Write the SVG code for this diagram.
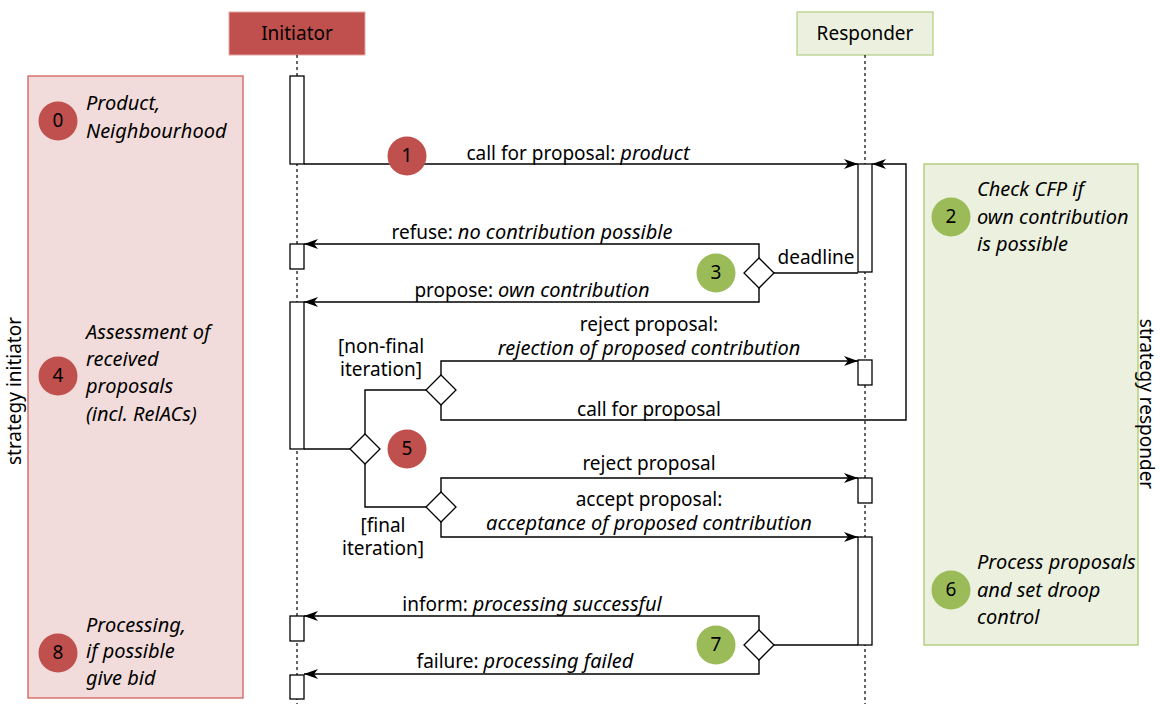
<svg xmlns="http://www.w3.org/2000/svg" width="1160" height="704" viewBox="0 0 1160 704">
<defs>
<marker id="arr" viewBox="0 0 14 10" refX="14" refY="5" markerWidth="14" markerHeight="10" markerUnits="userSpaceOnUse" orient="auto">
<path d="M0,0 L14,5 L0,10 L4,5 z" fill="#000"/>
</marker>
<style>
text{font-family:"Noto Sans","Open Sans","DejaVu Sans",sans-serif;font-size:19px;fill:#000}
.it{font-style:italic;font-size:20px}
.c{text-anchor:middle}
.life{stroke:#000;stroke-width:1.2;stroke-dasharray:3,3;fill:none}
.bar{fill:#fff;stroke:#000;stroke-width:1.3}
.con{fill:none;stroke:#000;stroke-width:1.4}
.dia{fill:#fff;stroke:#000;stroke-width:1.3}
.red{fill:#c0504d}
.grn{fill:#9bbb59}
</style>
</defs>
<rect id="strategy-initiator" x="28" y="76" width="215" height="622" fill="#f2dcdb" stroke="#d0605c" stroke-width="1.3"/>
<rect id="strategy-responder" x="924" y="164" width="214" height="481" fill="#ebf1de" stroke="#a9c96e" stroke-width="1.3"/>
<text transform="translate(21,391) rotate(-90)" class="c">strategy initiator</text>
<text transform="translate(1140,404) rotate(90)" class="c">strategy responder</text>
<g id="initiator">
<rect x="229" y="12" width="136" height="43" fill="#c0504d" stroke="#e6a5a3" stroke-width="1"/>
<text x="297" y="40" class="c">Initiator</text>
<line x1="297" y1="55" x2="297" y2="704" class="life"/>
</g>
<g id="responder">
<rect x="797" y="12" width="136" height="43" fill="#ebf1de" stroke="#b5d18a" stroke-width="1.3"/>
<text x="865" y="40" class="c">Responder</text>
<line x1="865" y1="55" x2="865" y2="704" class="life"/>
</g>
<g id="activations">
<rect x="290" y="76" width="14" height="88" class="bar"/>
<rect x="290" y="244" width="14" height="25" class="bar"/>
<rect x="290" y="302" width="14" height="147" class="bar"/>
<rect x="290" y="616" width="14" height="25" class="bar"/>
<rect x="290" y="675" width="14" height="24" class="bar"/>
<rect x="858" y="164" width="14" height="108" class="bar"/>
<rect x="858" y="360" width="14" height="25" class="bar"/>
<rect x="858" y="478" width="14" height="25" class="bar"/>
<rect x="858" y="537" width="14" height="108" class="bar"/>
</g>
<g id="connectors">
<path d="M304,164 H858" class="con" marker-end="url(#arr)"/>
<path d="M441,405 V420 H906 V164 H872" class="con" marker-end="url(#arr)"/>
<path d="M858,273 H774" class="con"/>
<path d="M759,258 V244 H304" class="con" marker-end="url(#arr)"/>
<path d="M759,288 V302 H304" class="con" marker-end="url(#arr)"/>
<path d="M304,449 H350" class="con"/>
<path d="M365,434 V390 H426" class="con"/>
<path d="M365,464 V507 H426" class="con"/>
<path d="M441,375 V361 H858" class="con" marker-end="url(#arr)"/>
<path d="M441,492 V478 H858" class="con" marker-end="url(#arr)"/>
<path d="M441,522 V537 H858" class="con" marker-end="url(#arr)"/>
<path d="M858,645 H774" class="con"/>
<path d="M759,630 V616 H304" class="con" marker-end="url(#arr)"/>
<path d="M759,660 V674 H304" class="con" marker-end="url(#arr)"/>
</g>
<g id="decisions">
<path id="d3" d="M759,258 L774,273 L759,288 L744,273 z" class="dia"/>
<path id="d5" d="M365,434 L380,449 L365,464 L350,449 z" class="dia"/>
<path id="d5a" d="M441,375 L456,390 L441,405 L426,390 z" class="dia"/>
<path id="d5b" d="M441,492 L456,507 L441,522 L426,507 z" class="dia"/>
<path id="d7" d="M759,630 L774,645 L759,660 L744,645 z" class="dia"/>
</g>
<g id="labels">
<text x="578" y="160" class="c">call for proposal: <tspan class="it">product</tspan></text>
<text x="532" y="239" class="c">refuse: <tspan class="it">no contribution possible</tspan></text>
<text x="532" y="297" class="c">propose: <tspan class="it">own contribution</tspan></text>
<text x="816" y="264" class="c">deadline</text>
<text x="649" y="331" class="c">reject proposal:</text>
<text x="649" y="355" class="c it">rejection of proposed contribution</text>
<text x="649" y="416" class="c">call for proposal</text>
<text x="649" y="470" class="c">reject proposal</text>
<text x="649" y="506" class="c">accept proposal:</text>
<text x="649" y="530" class="c it">acceptance of proposed contribution</text>
<text x="532" y="611" class="c">inform: <tspan class="it">processing successful</tspan></text>
<text x="525" y="668" class="c">failure: <tspan class="it">processing failed</tspan></text>
<text x="381" y="353" class="c">[non-final</text>
<text x="381" y="376" class="c">iteration]</text>
<text x="383" y="532" class="c">[final</text>
<text x="383" y="555" class="c">iteration]</text>
</g>
<g id="step0"><circle cx="58" cy="121" r="19.5" class="red"/><text x="58" y="127" class="c">0</text>
<text x="86" y="110" class="it">Product,</text><text x="86" y="138" class="it">Neighbourhood</text></g>
<g id="step4"><circle cx="58" cy="376" r="19.5" class="red"/><text x="58" y="382" class="c">4</text>
<text x="86" y="339" class="it">Assessment of</text><text x="86" y="366" class="it">received</text><text x="86" y="393" class="it">proposals</text><text x="86" y="421" class="it">(incl. RelACs)</text></g>
<g id="step8"><circle cx="58" cy="653" r="19.5" class="red"/><text x="58" y="659" class="c">8</text>
<text x="86" y="632" class="it">Processing,</text><text x="86" y="658" class="it">if possible</text><text x="86" y="685" class="it">give bid</text></g>
<g id="step1"><circle cx="407" cy="156" r="19.5" class="red"/><text x="407" y="162" class="c">1</text></g>
<g id="step5"><circle cx="407" cy="449" r="19.5" class="red"/><text x="407" y="455" class="c">5</text></g>
<g id="step3"><circle cx="716" cy="273" r="19.5" class="grn"/><text x="716" y="279" class="c">3</text></g>
<g id="step7"><circle cx="716" cy="645" r="19.5" class="grn"/><text x="716" y="651" class="c">7</text></g>
<g id="step2"><circle cx="951" cy="217" r="19.5" class="grn"/><text x="951" y="223" class="c">2</text>
<text x="977" y="196" class="it">Check CFP if</text><text x="977" y="224" class="it">own contribution</text><text x="977" y="251" class="it">is possible</text></g>
<g id="step6"><circle cx="951" cy="590" r="19.5" class="grn"/><text x="951" y="596" class="c">6</text>
<text x="977" y="569" class="it">Process proposals</text><text x="977" y="597" class="it">and set droop</text><text x="977" y="624" class="it">control</text></g>
</svg>
